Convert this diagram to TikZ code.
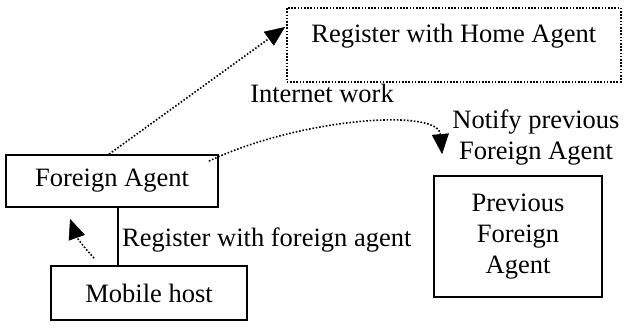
\documentclass[tikz,border=0pt]{standalone}
\usepackage{fontspec}
\setmainfont{Liberation Serif}
\usetikzlibrary{arrows.meta,calc}

\tikzset{
  every node/.style={font=\fontsize{26.5}{31}\selectfont},
  solidbox/.style={draw, line width=1.8pt, inner sep=0pt, align=center},
  dotbox/.style={draw, line width=1.5pt, dash pattern=on 1.6pt off 1.6pt, inner sep=0pt},
  dotlink/.style={line width=1.6pt, dash pattern=on 1.6pt off 1.8pt,
                  -{Triangle[length=20pt,width=17pt,line width=0.5pt]}},
  plain/.style={inner sep=0pt, align=center}
}

\begin{document}
\begin{tikzpicture}[x=1pt,y=-1pt]
  \useasboundingbox (0,0) rectangle (624,327);

  % boxes
  \node[dotbox, minimum width=334pt, text height=35pt, text depth=39pt, inner ysep=0pt,
        anchor=north west] (reg) at (286,7) {Register with Home Agent};
  \node[solidbox, minimum width=212pt, minimum height=52pt] (fa) at (112,181) {Foreign Agent};
  \node[solidbox, minimum width=196pt, minimum height=54pt] (mh) at (149,293) {Mobile host};
  \node[solidbox, minimum width=168pt, minimum height=121pt] (pfa) at (518,236.5)
       {Previous\\Foreign\\Agent};

  % labels
  \node[plain] (inet) at (322,93) {Internet work};
  \node[plain] (notify) at (536,138) {Notify previous\\Foreign Agent};
  \node[plain, anchor=west] (regfa) at (122,240) {Register with foreign agent};

  % solid link between mobile host and foreign agent
  \coordinate (lnk) at (118,0);
  \draw[line width=1.6pt] (fa.south -| lnk) -- (mh.north -| lnk);

  % foreign agent registers with the home agent
  \draw[dotlink] ($(fa.north west)+(104,0)$) -- ($(reg.north west)+(-1,20)$);

  % foreign agent notifies the previous foreign agent
  \coordinate (nstart) at ($(fa.north east)+(-10,7)$);
  \coordinate (nend) at ($(pfa.north west)+(9,-21)$);
  \draw[dotlink] (nstart) .. controls (300,118) and (438,108) .. (nend);

  % mobile host registers with the foreign agent
  \coordinate (mstart) at ($(mh.north west)+(44,-7)$);
  \coordinate (mend) at ($(fa.south west)+(65,11)$);
  \draw[dotlink] (mstart) to[bend left=12] (mend);
\end{tikzpicture}
\end{document}
